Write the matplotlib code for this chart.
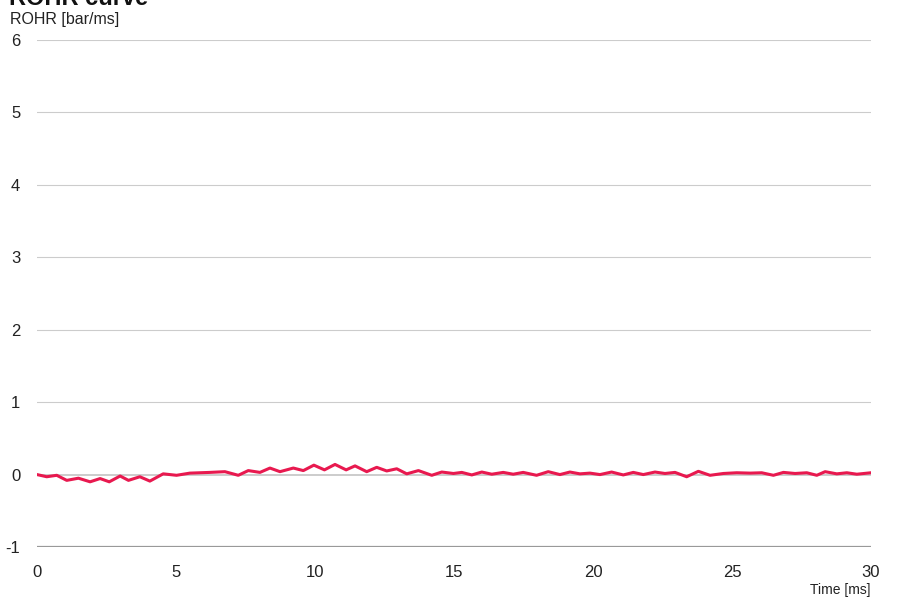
import matplotlib
matplotlib.use("Agg")
import matplotlib.pyplot as plt

plt.rcParams['font.family'] = ['Liberation Sans', 'DejaVu Sans']
plt.rcParams['axes.unicode_minus'] = False

# ROHR curve
time_ms = [0.0, 0.35, 0.71, 1.07, 1.49, 1.91, 2.27, 2.6, 2.99, 3.29, 3.7, 4.06,
           4.54, 5.02, 5.5, 6.22, 6.76, 7.24, 7.6, 8.02, 8.38, 8.74, 9.22, 9.58,
           9.96, 10.34, 10.72, 11.12, 11.44, 11.86, 12.22, 12.58, 12.94, 13.3,
           13.72, 14.2, 14.56, 14.98, 15.28, 15.64, 16.0, 16.36, 16.77, 17.13,
           17.49, 17.97, 18.39, 18.81, 19.17, 19.53, 19.89, 20.25, 20.67, 21.09,
           21.45, 21.81, 22.23, 22.59, 22.95, 23.37, 23.79, 24.21, 24.69, 25.17,
           25.65, 26.07, 26.49, 26.85, 27.27, 27.69, 28.05, 28.35, 28.77, 29.13,
           29.49, 30.0]
rohr = [0.0, -0.03, -0.01, -0.08, -0.05, -0.10, -0.055, -0.10, -0.02, -0.08, -0.03, -0.09,
        0.01, -0.01, 0.02, 0.03, 0.04, -0.01, 0.055, 0.03, 0.09, 0.04, 0.09, 0.055,
        0.13, 0.065, 0.14, 0.065, 0.12, 0.04, 0.10, 0.05, 0.08, 0.01,
        0.055, -0.01, 0.035, 0.015, 0.03, -0.005, 0.035, 0.005, 0.03, 0.005,
        0.03, -0.01, 0.04, 0.0, 0.035, 0.01, 0.02, 0.0, 0.035, -0.005,
        0.03, 0.0, 0.035, 0.015, 0.03, -0.03, 0.045, -0.01, 0.015, 0.025,
        0.02, 0.025, -0.01, 0.03, 0.015, 0.025, -0.01, 0.04, 0.01, 0.025,
        0.005, 0.025]

x_ticks = [0, 5, 10, 15, 20, 25, 30]
y_ticks = [-1, 0, 1, 2, 3, 4, 5, 6]

fig = plt.figure(figsize=(9.01, 5.98), dpi=100)
ax = fig.add_axes([37/901, 1-547/598, 834/901, 507/598])

# horizontal grid lines
for yv in y_ticks:
    if yv == -1:
        ax.axhline(yv, color='#999999', lw=1.6, zorder=1)
    elif yv == 0:
        ax.axhline(yv, color='#cccccc', lw=1.4, zorder=1)
    else:
        ax.axhline(yv, color='#cccccc', lw=0.8, zorder=1)

ax.plot(time_ms, rohr, color='#e8194f', lw=2.2, zorder=3,
        solid_capstyle='round', solid_joinstyle='round')

ax.set_xlim(0, 30)
ax.set_ylim(-1, 6)
ax.set_xticks(x_ticks)
ax.set_yticks(y_ticks)
ax.tick_params(axis='both', length=0, labelsize=12, colors='#222222')
ax.tick_params(axis='y', pad=12)
ax.tick_params(axis='x', pad=13)
for s in ax.spines.values():
    s.set_visible(False)

fig.text(10/901, 1-24/598, 'ROHR [bar/ms]', fontsize=11.5, color='#222222', ha='left', va='baseline')
fig.text(871/901, 1-594/598, 'Time [ms]', fontsize=10, color='#222222', ha='right', va='baseline')
fig.text(9/901, 1-5/598, 'ROHR curve', fontsize=17, fontweight='bold', color='#111111',
         ha='left', va='baseline')

fig.savefig('out.png', dpi=100)
